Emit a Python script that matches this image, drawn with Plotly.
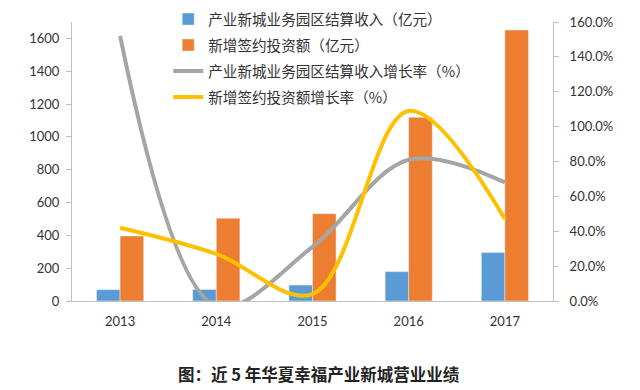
import plotly.graph_objects as go

years = ["2013", "2014", "2015", "2016", "2017"]
park_revenue = [69, 70, 97, 179, 295]            # 产业新城业务园区结算收入（亿元）
new_investment = [396, 504, 532, 1119, 1651]     # 新增签约投资额（亿元）
park_growth = [1.52, -0.03, 0.31, 0.81, 0.68]    # 产业新城业务园区结算收入增长率
invest_growth = [0.42, 0.27, 0.04, 1.09, 0.47]   # 新增签约投资额增长率

left_ticks = [0, 200, 400, 600, 800, 1000, 1200, 1400, 1600]
right_ticks = [0, 0.2, 0.4, 0.6, 0.8, 1.0, 1.2, 1.4, 1.6]

names = ["产业新城业务园区结算收入（亿元）", "新增签约投资额（亿元）",
         "产业新城业务园区结算收入增长率（%）", "新增签约投资额增长率（%）"]

fig = go.Figure()
fig.add_trace(go.Bar(x=years, y=park_revenue, name=names[0], marker_color="#5B9BD5",
                     legendgroup="a"))
fig.add_trace(go.Bar(x=years, y=new_investment, name=names[1], marker_color="#ED7D31",
                     legendgroup="b"))
fig.add_trace(go.Scatter(x=years, y=park_growth, name=names[2], yaxis="y2", mode="lines",
                         line=dict(color="#A5A5A5", width=4, shape="spline", smoothing=1.0),
                         legendgroup="c"))
fig.add_trace(go.Scatter(x=years, y=invest_growth, name=names[3], yaxis="y2", mode="lines",
                         line=dict(color="#FFC000", width=4, shape="spline", smoothing=1.0),
                         legendgroup="d"))

tick_font = dict(family="Lato, 'Noto Sans CJK SC', sans-serif", size=13, color="#333333")

# the page body has an 8px margin, so the figure is sized to fit the 640x390 window
fig.update_layout(
    width=632, height=382,
    margin=dict(l=64, r=87, t=14, b=89, autoexpand=False),
    paper_bgcolor="white", plot_bgcolor="white",
    barmode="group", bargap=0.51, bargroupgap=0,
    showlegend=True,
    legend=dict(x=0.2, y=1.068, xref="paper", yref="paper", xanchor="left", yanchor="top",
                font=dict(family="'Noto Sans CJK SC', sans-serif", size=14.6, color="#333333"),
                traceorder="grouped", tracegroupgap=4, bgcolor="rgba(0,0,0,0)"),
    xaxis=dict(type="category", showline=True, linecolor="#BFBFBF", linewidth=1,
               ticks="", tickfont=tick_font, showgrid=False, ticklabelstandoff=8),
    yaxis=dict(range=[0, 1700], tickvals=left_ticks, showline=True, linecolor="#BFBFBF",
               ticks="outside", ticklen=5, tickcolor="#BFBFBF", showgrid=False,
               zeroline=False, tickfont=tick_font, ticklabelstandoff=4),
    yaxis2=dict(range=[0, 1.6], tickvals=right_ticks, tickformat=".1%", overlaying="y",
                side="right", showline=True, linecolor="#BFBFBF", ticks="outside",
                ticklen=5, tickcolor="#BFBFBF", showgrid=False, zeroline=False,
                tickfont=tick_font, ticklabelstandoff=8),
    annotations=[dict(text="<b>图：近 5 年华夏幸福产业新城营业业绩</b>", xref="paper", yref="paper",
                      x=0.514, y=-0.262, xanchor="center", yanchor="middle", showarrow=False,
                      font=dict(family="'Noto Sans CJK SC', sans-serif", size=16.5, color="#222222"))],
)

fig.write_html("out.html")
